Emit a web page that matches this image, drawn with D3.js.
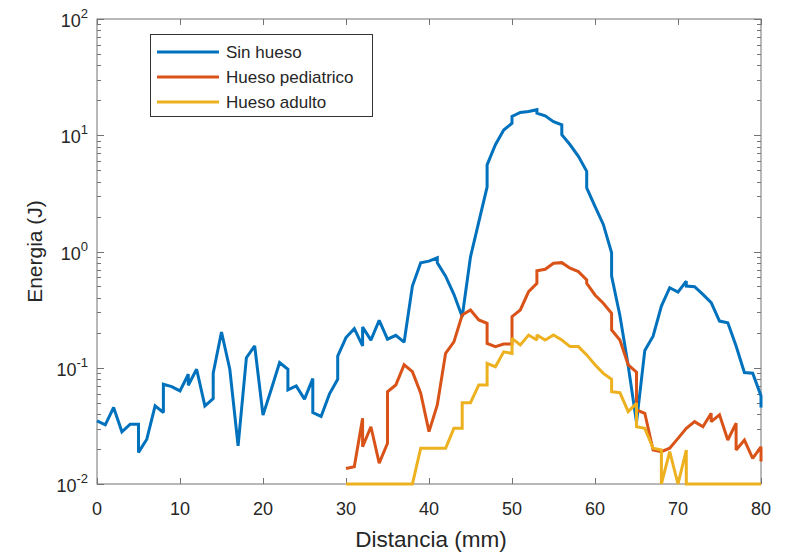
<!DOCTYPE html>
<html>
<head>
<meta charset="utf-8">
<script src="https://cdn.jsdelivr.net/npm/d3@7"></script>
<style>
  html, body { margin: 0; padding: 0; background: #fff; }
  svg { display: block; }
  text { font-family: "Liberation Sans", Arial, Helvetica, sans-serif; fill: #262626; }
</style>
</head>
<body>
<svg id="chart" width="790" height="554"></svg>
<script>
// ---- Data (Distancia in mm, Energia in J) ----
const seriesNames = ["Sin hueso", "Hueso pediatrico", "Hueso adulto"];
const seriesColors = ["#0072BD", "#D95319", "#EDB120"];

const xSinHueso = [0,1,2,3,4,5,5,6,7,8,8,9,10,11,11,12,13,14,14,15,16,17,18,19,20,21,22,23,23,24,25,26,26,27,28,29,29,
  30,31,32,32,33,34,35,36,37,38,39,40,41,41,42,43,44,45,46,47,47,48,49,50,50,51,52,53,53,54,55,56,56,57,58,59,59,60,61,62,62,63,64,65,
  66,67,68,69,70,71,71,72,73,74,75,76,77,78,79,80,80];
const ySinHueso = [0.0349,0.0323,0.0455,0.0281,0.0327,0.0327,0.0187,0.0243,0.0470,0.0412,0.0721,0.0689,0.0632,0.0879,0.0708,0.0970,0.0470,0.0543,0.0897,0.203,0.0970,0.0213,0.122,0.154,0.0391,0.0653,0.111,0.0970,0.0644,0.0698,0.0537,0.0807,0.0412,0.0381,0.0593,0.0796,0.126,
  0.182,0.217,0.154,0.224,0.173,0.256,0.176,0.190,0.166,0.504,0.800,0.826,0.883,0.800,0.614,0.428,0.275,0.900,1.80,3.59,5.56,8.28,11.1,12.7,14.5,15.7,16.0,16.6,15.5,14.7,13.1,12.3,10.1,8.28,6.58,4.89,3.52,2.45,1.71,0.975,0.614,0.282,0.104,0.0339,
  0.141,0.187,0.339,0.488,0.447,0.556,0.504,0.498,0.428,0.363,0.252,0.244,0.154,0.0910,0.0897,0.0573,0.0455];

const xPediatrico = [30,31,32,32,33,34,35,35,36,37,38,39,40,41,42,43,44,45,46,47,47,48,49,50,50,51,52,53,53,54,55,56,57,58,59,59,60,61,62,62,63,64,65,65,66,
  67,68,69,70,71,72,73,74,74,75,76,77,77,78,79,80,80];
const yPediatrico = [0.0136,0.0141,0.0367,0.0209,0.0311,0.0151,0.0224,0.0622,0.0711,0.106,0.0925,0.0603,0.0282,0.0479,0.133,0.167,0.284,0.314,0.258,0.241,0.162,0.152,0.160,0.160,0.275,0.314,0.451,0.532,0.684,0.703,0.792,0.802,0.718,0.671,0.569,0.532,0.423,0.359,0.294,0.211,0.173,0.106,0.0918,0.0434,0.0406,
  0.0196,0.0190,0.0203,0.0247,0.0301,0.0344,0.0311,0.0406,0.0344,0.0393,0.0239,0.0333,0.0196,0.0239,0.0166,0.0209,0.0156];

const xAdulto = [30,31,32,33,34,35,36,37,38,39,40,41,42,43,44,44,45,46,47,47,48,49,50,50,51,52,53,53,54,55,56,57,58,59,60,61,62,62,63,64,65,65,66,
  67,68,68,69,70,71,71,72,73,74,75,76,77,78,79,80];
const yAdulto = [0.01,0.01,0.01,0.01,0.01,0.01,0.01,0.01,0.01,0.0203,0.0203,0.0203,0.0203,0.0301,0.0301,0.0500,0.0500,0.0711,0.0711,0.109,0.102,0.137,0.133,0.179,0.157,0.191,0.173,0.191,0.173,0.191,0.173,0.152,0.152,0.129,0.106,0.0895,0.0796,0.0622,0.0610,0.0419,0.0494,0.0311,0.0301,
  0.0203,0.0196,0.01,0.0190,0.01,0.0196,0.01,0.01,0.01,0.01,0.01,0.01,0.01,0.01,0.01,0.01];

const xTicks = [0,10,20,30,40,50,60,70,80];
const yTickExponents = [-2,-1,0,1,2];
const xLabel = "Distancia (mm)";
const yLabel = "Energia (J)";

// ---- Layout ----
const L = 97, R = 761, T = 19, B = 484;
const svg = d3.select("#chart");
const x = d3.scaleLinear().domain([0, 80]).range([L, R]);
const y = d3.scaleLog().domain([0.01, 100]).range([B, T]);
const axisColor = "#737373";

// Frame
svg.append("rect").attr("x", L).attr("y", T).attr("width", R - L).attr("height", B - T)
  .attr("fill", "none").attr("stroke", axisColor).attr("stroke-width", 1);

// X ticks (bottom and top, inward)
const gx = svg.append("g");
xTicks.forEach(t => {
  const px = Math.round(x(t)) + 0.5;
  gx.append("line").attr("x1", px).attr("x2", px).attr("y1", B).attr("y2", B - 6).attr("stroke", axisColor);
  gx.append("line").attr("x1", px).attr("x2", px).attr("y1", T).attr("y2", T + 6).attr("stroke", axisColor);
  gx.append("text").attr("x", x(t)).attr("y", 515).attr("text-anchor", "middle")
    .attr("font-size", 18).text(t);
});

// Y ticks (major + minor, left and right)
const gy = svg.append("g");
yTickExponents.forEach(e => {
  const py = Math.round(y(Math.pow(10, e))) + 0.5;
  gy.append("line").attr("x1", L).attr("x2", L + 7).attr("y1", py).attr("y2", py).attr("stroke", axisColor);
  gy.append("line").attr("x1", R).attr("x2", R - 7).attr("y1", py).attr("y2", py).attr("stroke", axisColor);
  const tx = gy.append("text").attr("x", 88).attr("y", py + 7).attr("text-anchor", "end").attr("font-size", 18);
  tx.append("tspan").text("10");
  tx.append("tspan").attr("dy", -9).attr("font-size", 13).text(String(e));
  if (e < 2) {
    for (let m = 2; m <= 9; m++) {
      const pm = Math.round(y(m * Math.pow(10, e))) + 0.5;
      gy.append("line").attr("x1", L).attr("x2", L + 4).attr("y1", pm).attr("y2", pm).attr("stroke", axisColor);
      gy.append("line").attr("x1", R).attr("x2", R - 4).attr("y1", pm).attr("y2", pm).attr("stroke", axisColor);
    }
  }
});

// Axis labels
svg.append("text").attr("x", (L + R) / 2 + 2).attr("y", 547).attr("text-anchor", "middle")
  .attr("font-size", 22.5).text(xLabel);
svg.append("text").attr("transform", `translate(42,${(T + B) / 2}) rotate(-90)`)
  .attr("text-anchor", "middle").attr("font-size", 21).text(yLabel);

// Lines
const line = d3.line().x(d => x(d[0])).y(d => y(d[1]));
const allSeries = [
  d3.zip(xSinHueso, ySinHueso),
  d3.zip(xPediatrico, yPediatrico),
  d3.zip(xAdulto, yAdulto)
];
allSeries.forEach((s, i) => {
  svg.append("path").datum(s).attr("d", line).attr("fill", "none")
    .attr("stroke", seriesColors[i]).attr("stroke-width", 3).attr("stroke-linejoin", "miter").attr("stroke-miterlimit", 2);
});

// Legend
const lg = svg.append("g");
lg.append("rect").attr("x", 150.5).attr("y", 34.5).attr("width", 222).attr("height", 82)
  .attr("fill", "#fff").attr("stroke", "#333").attr("stroke-width", 1);
seriesNames.forEach((n, i) => {
  const cy = 52 + i * 25;
  lg.append("line").attr("x1", 157).attr("x2", 219).attr("y1", cy).attr("y2", cy)
    .attr("stroke", seriesColors[i]).attr("stroke-width", 3);
  lg.append("text").attr("x", 226).attr("y", cy + 6).attr("font-size", 17).text(n);
});
</script>
</body>
</html>
